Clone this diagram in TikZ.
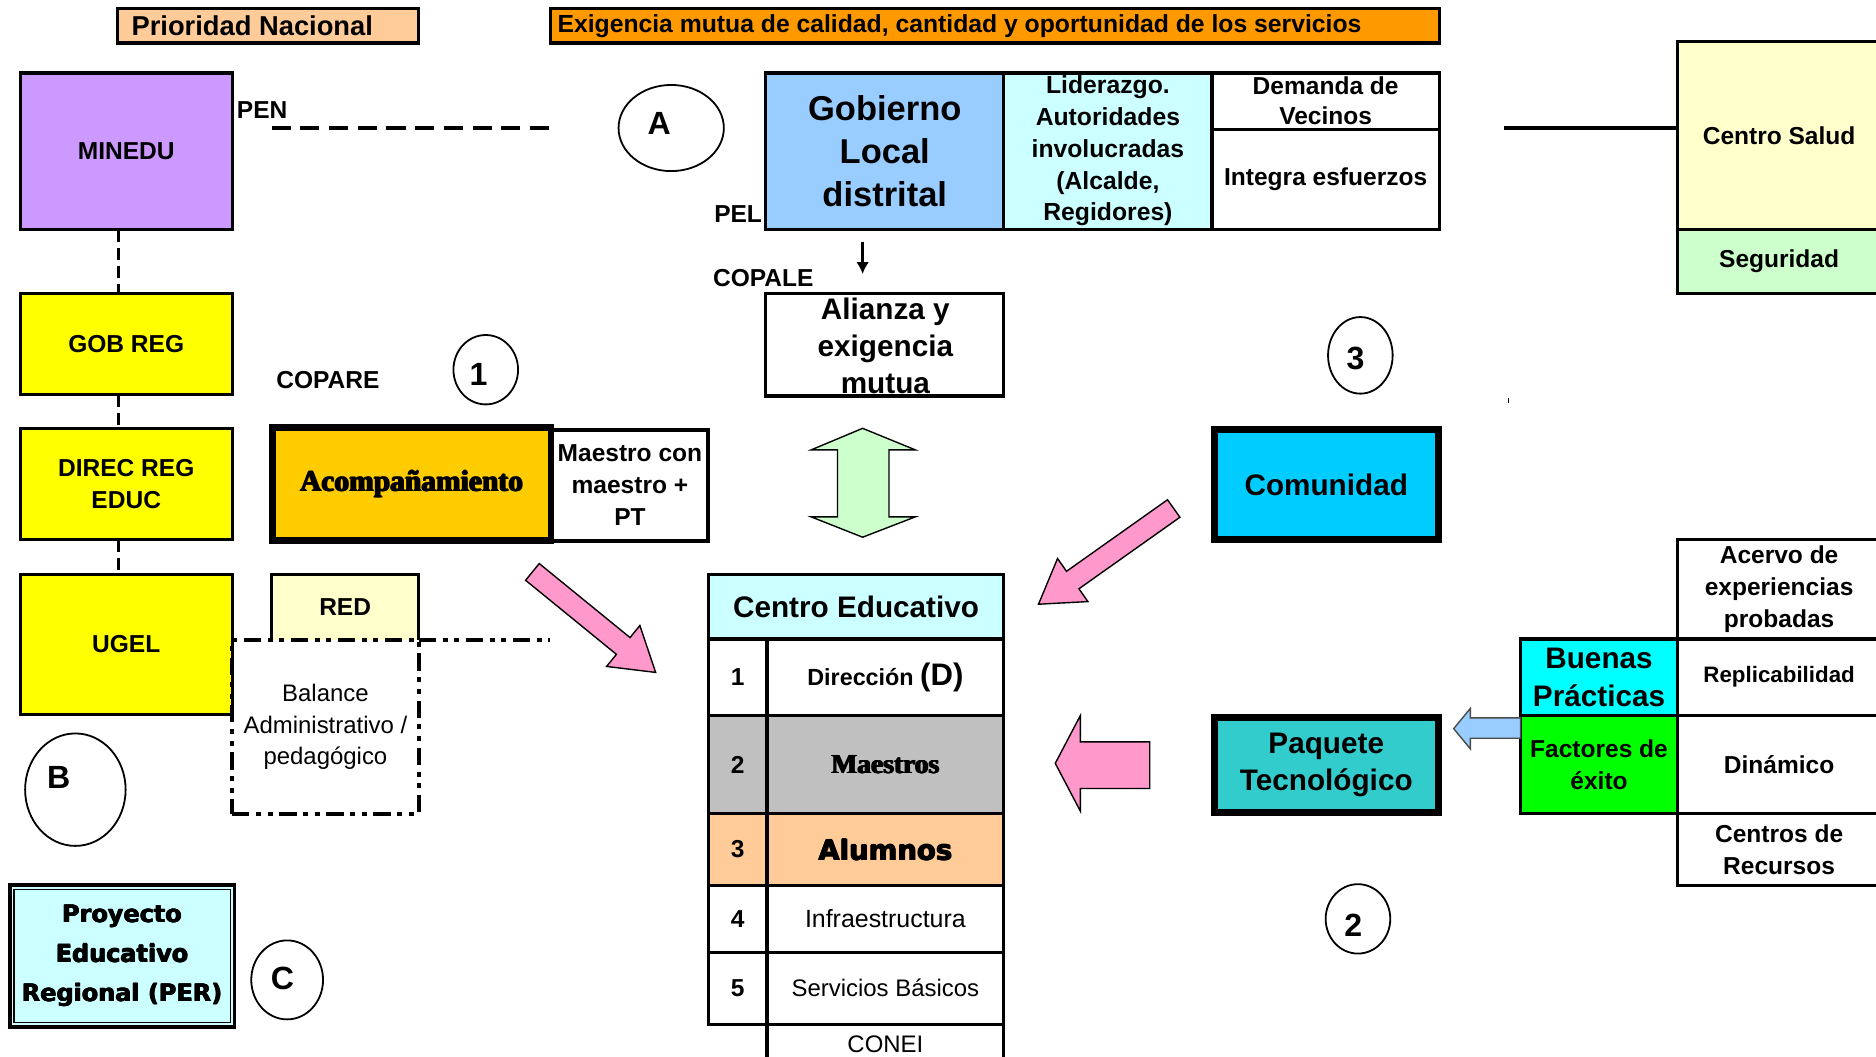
\documentclass[tikz,border=0pt]{standalone}
\usepackage{fontspec}
\setmainfont{Liberation Sans}
\newfontfamily\heavyserif{Liberation Serif}[UprightFont={* Bold}]
\newfontfamily\blacksans{DejaVu Sans}[UprightFont={* Bold}]
\usetikzlibrary{shapes.geometric,arrows.meta}
\definecolor{cPeach}{HTML}{FFCC99}
\definecolor{cOrange}{HTML}{FF9900}
\definecolor{cLav}{HTML}{CC99FF}
\definecolor{cYel}{HTML}{FFFF00}
\definecolor{cLYel}{HTML}{FFFFCC}
\definecolor{cLCyan}{HTML}{CCFFFF}
\definecolor{cBlue}{HTML}{99CCFF}
\definecolor{cGold}{HTML}{FFCC00}
\definecolor{cLGreen}{HTML}{CCFFCC}
\definecolor{cPink}{HTML}{FF99CC}
\definecolor{cGrey}{HTML}{C0C0C0}
\definecolor{cSky}{HTML}{00CCFF}
\definecolor{cTeal}{HTML}{33CCCC}
\definecolor{cCyan}{HTML}{00FFFF}
\definecolor{cGreen}{HTML}{00FF00}
\newcommand\stdfont{\bfseries\fontsize{12.3}{16}\selectfont}
\newcommand\bigfont{\bfseries\fontsize{14.9}{18.6}\selectfont}
\newcommand\regfont{\mdseries\fontsize{12}{15.6}\selectfont}
\newcommand\ringfont{\bfseries\fontsize{16.1}{18}\selectfont}
\newcommand\heavy[2]{\leavevmode\rlap{#2}\rlap{\kern#1 #2}\rlap{\kern#1\kern#1 #2}\rlap{\raisebox{#1}{\kern#1 #2}}\hphantom{#2}\kern#1\kern#1}
\begin{document}
\begin{tikzpicture}[x=0.6pt,y=-0.6pt,
  every node/.style={inner sep=0pt, outer sep=0pt},
  bx/.style 2 args={rectangle, draw, line width=1.6pt, minimum width=#1*0.6pt, minimum height=#2*0.6pt, anchor=north west, align=center, font=\stdfont},
  txt/.style={align=center, font=\stdfont},
  ring/.style 2 args={ellipse, draw, line width=0.9pt, minimum width=#1*0.6pt, minimum height=#2*0.6pt},
  ringtxt/.style={font=\ringfont},
  pendash/.style={line width=1.7pt, dash pattern=on 9.6pt off 4.8pt},
  vdash/.style={line width=1.8pt, dash pattern=on 6pt off 3pt},
  dashdot/.style={line width=2pt, dash pattern=on 8.7pt off 3.3pt on 2.5pt off 3.3pt on 2.5pt off 3.3pt},
  blockarrow/.style={line width=0.7pt, draw=black}
]
\fill[white] (0,0) rectangle (1568,883);
\useasboundingbox (0,0) rectangle (1568,883);

% header
\node[bx={252}{29}, fill=cPeach] (prio) at (98,7) {};
\node[txt, anchor=west, font=\bfseries\fontsize{13.7}{16}\selectfont] (prioT) at (110,21.5) {Prioridad Nacional};
\node[bx={743}{29}, fill=cOrange] (exig) at (460,7) {};
\node[txt, anchor=west, font=\bfseries\fontsize{12.4}{16}\selectfont] (exigT) at (466,21.5) {Exigencia mutua de calidad, cantidad y oportunidad de los servicios};

% left column
\node[bx={177}{131}, fill=cLav] (minedu) at (17,61) {MINEDU};
\node[bx={177}{85}, fill=cYel] (gobreg) at (17,245) {GOB REG};
\node[bx={177}{93}, fill=cYel] (direc) at (17,358) {DIREC REG\\EDUC};
\node[bx={177}{117}, fill=cYel] (ugel) at (17,480) {UGEL};
\draw[vdash] ([xshift=-3.9pt]minedu.south) -- ([xshift=-3.9pt]gobreg.north);
\draw[vdash] ([xshift=-3.9pt]gobreg.south) -- ([xshift=-3.9pt]direc.north);
\draw[vdash] ([xshift=-3.9pt]direc.south) -- ([xshift=-3.9pt]ugel.north);

\node[bx={188}{118}, fill=cLCyan, line width=2pt, font=\blacksans\fontsize{12}{19.8}\selectfont] (per) at (8,740) {\heavy{0.25pt}{Proyecto}\\\heavy{0.25pt}{Educativo}\\\heavy{0.25pt}{Regional (PER)}};
\draw[line width=0.8pt] ([shift={(3.5,3.5)}]per.north west) rectangle ([shift={(-3.5,-3.5)}]per.south east);

% labels
\node[txt, anchor=west] (penT) at (198,92) {PEN};
\node[txt, anchor=west] (copareT) at (231,318) {COPARE};
\node[txt, anchor=west] (pelT) at (597,179) {PEL};
\node[txt, anchor=west] (copaleT) at (596,232) {COPALE};

\coordinate (penA) at (227,107);
\coordinate (penB) at (460,107);
\draw[pendash] (penA) -- (penB);

% rings
\node[ring={88}{72}] (ringA) at (561,107) {};
\node[ringtxt] (ringAT) at (551,103) {A};
\node[ring={54}{58}] (ring1) at (406,309) {};
\node[ringtxt] (ring1T) at (400,313) {1};
\node[ring={84}{94}] (ringB) at (63,660) {};
\node[ringtxt] (ringBT) at (49,650) {B};
\node[ring={60}{66}] (ringC) at (240,819) {};
\node[ringtxt] (ringCT) at (236,818) {C};
\node[ring={54}{64}] (ring3) at (1137,297) {};
\node[ringtxt] (ring3T) at (1133,300) {3};
\node[ring={54}{58}] (ring2) at (1135,768) {};
\node[ringtxt] (ring2T) at (1131,773) {2};

% acompanamiento
\node[bx={131}{93}, line width=2pt] (mcm) at (461,359) {Maestro con\\maestro +\\PT};
\node[bx={233}{94}, fill=cGold, line width=3.4pt, font=\heavyserif\fontsize{14.8}{18}\selectfont] (acomp) at (227.5,357.5) {\heavy{0.4pt}{Acompañamiento}};

% RED and balance
\node[bx={123}{55}, draw=none, fill=cLYel] (red) at (227,480) {RED};
\draw[line width=1.6pt] (red.south west) |- (red.north east) -- (red.south east);
\node[bx={156}{145}, dashdot, font=\regfont] (bal) at (194,535) {Balance\\Administrativo /\\pedagógico};
\coordinate (balEnd) at (460,535);
\draw[dashdot] (bal.north east) -- (balEnd);

% pink arrow 1
\draw[blockarrow, fill=cPink] (439.3,485.0) -- (515.2,546.9) -- (507.0,557.0) -- (548,562) -- (534.8,522.8) -- (526.6,532.9) -- (450.7,471.0) -- cycle;

% gobierno local table
\node[bx={199}{131}, fill=cBlue, font=\bfseries\fontsize{17.3}{21.6}\selectfont] (gob) at (640,61) {Gobierno\\Local\\distrital};
\node[bx={174}{131}, fill=cLCyan] (lid) at (839,61) {};
\node[txt, font=\bfseries\fontsize{12.4}{16}\selectfont] (lidT) at (926,126) {Liderazgo.\\Autoridades\\involucradas\\(Alcalde,\\Regidores)};
\node[bx={190}{47}] (dem) at (1013,61) {};
\node[txt, font=\bfseries\fontsize{12.3}{15}\selectfont] (demT) at (1108,84.5) {Demanda de\\Vecinos};
\node[bx={190}{84}] (integ) at (1013,108) {Integra esfuerzos};

\coordinate (arrA) at (721,202);
\coordinate (arrB) at (721,229);
\draw[line width=1.2pt, -{Latex[length=6pt,width=6.5pt]}] (arrA) -- (arrB);

\node[bx={199}{86}] (alianza) at (640,245) {};
\node[txt, font=\bfseries\fontsize{14.9}{18.6}\selectfont] (alianzaT) at (740,289) {Alianza y\\exigencia\\mutua};

% green double arrow
\draw[blockarrow, fill=cLGreen] (721,358) -- (765,376) -- (743,376) -- (743,432) -- (765,432) -- (721,449) -- (678,432) -- (700,432) -- (700,376) -- (678,376) -- cycle;

% centro educativo
\node[bx={247}{54}, fill=cLCyan, font=\bigfont] (ceh) at (592,480) {Centro Educativo};
\node[bx={49}{64}] (n1) at (592,534) {1};
\node[bx={198}{64}, font=\bfseries\fontsize{11.7}{14}\selectfont] (r1) at (641,534) {Dirección {\fontsize{15.6}{18}\selectfont(D)}};
\node[bx={49}{82}, fill=cGrey] (n2) at (592,598) {2};
\node[bx={198}{82}, fill=cGrey, font=\heavyserif\fontsize{13.8}{16}\selectfont] (r2) at (641,598) {\heavy{0.35pt}{Maestros}};
\node[bx={49}{60}, fill=cPeach] (n3) at (592,680) {3};
\node[bx={198}{60}, fill=cPeach, font=\blacksans\fontsize{13.8}{16}\selectfont] (r3) at (641,680) {\heavy{0.3pt}{Alumnos}};
\node[bx={49}{56}] (n4) at (592,740) {4};
\node[bx={198}{56}, font=\mdseries\fontsize{12.5}{15}\selectfont] (r4) at (641,740) {Infraestructura};
\node[bx={49}{60}] (n5) at (592,796) {5};
\node[bx={198}{60}, font=\regfont] (r5) at (641,796) {Servicios Básicos};
\node[bx={198}{34}, font=\regfont] (conei) at (641,856) {CONEI};

% pink arrow 2
\draw[blockarrow, fill=cPink] (986.2,432.3) -- (901.8,492.1) -- (909.3,502.8) -- (868,505) -- (883.9,466.8) -- (891.4,477.5) -- (975.8,417.7) -- cycle;
% pink left arrow
\draw[blockarrow, fill=cPink] (961,620) -- (903,620) -- (903,598) -- (882,638) -- (903,678) -- (903,659) -- (961,659) -- cycle;

% right side
\node[bx={170}{157}, fill=cLYel] (salud) at (1402,35) {Centro Salud};
\node[bx={170}{53}, fill=cLGreen] (seg) at (1402,192) {Seguridad};
\coordinate (salL) at (1257,107);
\draw[line width=2.4pt] (salL) -- (salL -| salud.west);
\coordinate (tickA) at (1261,333);
\coordinate (tickB) at (1261,337);
\draw[line width=0.6pt] (tickA) -- (tickB);

\node[bx={187}{92}, fill=cSky, line width=3.6pt, font=\bigfont] (comun) at (1015,359) {Comunidad};
\node[bx={187}{79}, fill=cTeal, line width=3.6pt, font=\bigfont] (paq) at (1015,600) {Paquete\\Tecnológico};

\node[bx={170}{83}] (acervo) at (1402,451) {Acervo de\\experiencias\\probadas};
\node[bx={170}{64}, font=\bfseries\fontsize{11.2}{14}\selectfont] (repl) at (1402,534) {Replicabilidad};
\node[bx={170}{82}] (dinam) at (1402,598) {Dinámico};
\node[bx={170}{60}] (centros) at (1402,680) {Centros de\\Recursos};
\node[bx={131}{64}, fill=cCyan, font=\bfseries\fontsize{14.9}{19}\selectfont] (buenas) at (1271,534) {Buenas\\Prácticas};
\node[bx={131}{82}, fill=cGreen, font=\bfseries\fontsize{12.3}{16.2}\selectfont] (factores) at (1271,598) {Factores de\\éxito};

% light blue arrow
\draw[line width=0.7pt, draw=black!70, fill=cBlue] (1271,600) -- (1229,600) -- (1229,592) -- (1215,609) -- (1229,626) -- (1229,617) -- (1271,617) -- cycle;
\end{tikzpicture}
\end{document}
